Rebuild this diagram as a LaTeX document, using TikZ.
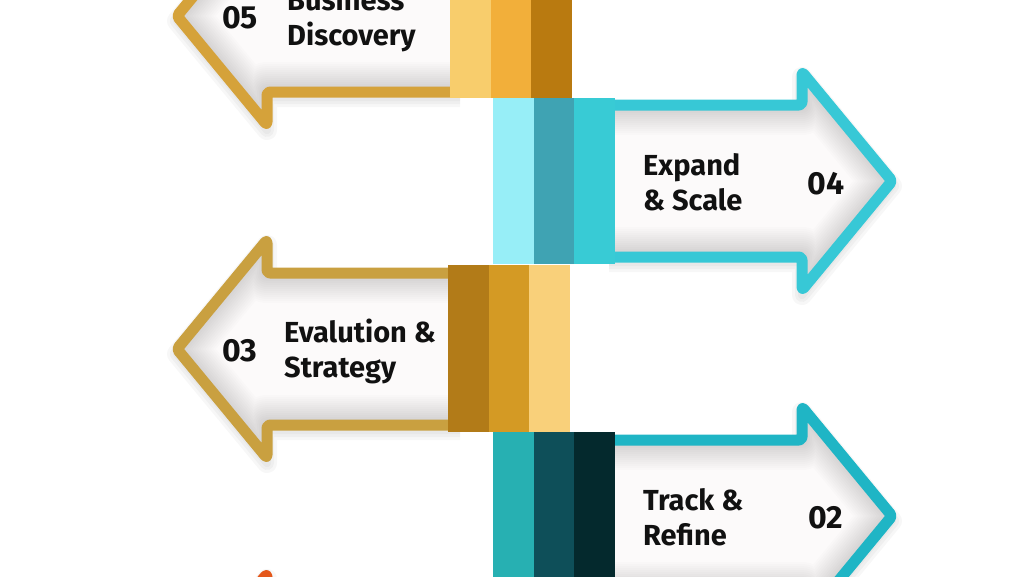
\documentclass[tikz,border=0pt]{standalone}
\usepackage{fontspec}
\setmainfont{Fira Sans}
\usepackage{tikz}

\definecolor{ink}{HTML}{111111}
\definecolor{paper}{HTML}{FCFAFA}
% arrow borders
\definecolor{goldA}{HTML}{D5A23A}
\definecolor{goldB}{HTML}{C9A040}
\definecolor{cyanA}{HTML}{37C8D6}
\definecolor{cyanB}{HTML}{1FB5C5}
\definecolor{orangeA}{HTML}{E4581B}
% stripes
\definecolor{sA1}{HTML}{F8CD6C}\definecolor{sA2}{HTML}{F2AF3A}\definecolor{sA3}{HTML}{B97A10}
\definecolor{sB1}{HTML}{97EEF7}\definecolor{sB2}{HTML}{3FA3B3}\definecolor{sB3}{HTML}{38CBD5}
\definecolor{sC1}{HTML}{B27B18}\definecolor{sC2}{HTML}{D49A24}\definecolor{sC3}{HTML}{F9D07A}
\definecolor{sD1}{HTML}{27B0B2}\definecolor{sD2}{HTML}{0E4F59}\definecolor{sD3}{HTML}{04292D}

\tikzset{
  arrowbody/.style={insert path={(460,#1-76) -- (267,#1-76) -- (267,#1-109) -- (177,#1)
      -- (267,#1+109) -- (267,#1+76) -- (460,#1+76)}},
  arrowedge/.style={line width=11pt, line join=round, rounded corners=3pt},
  steptext/.style={font=\bfseries\fontsize{29}{35}\selectfont, align=left, anchor=west,
      inner sep=0pt, text=ink},
  stepnum/.style={font=\bfseries\fontsize{32}{36}\selectfont, inner sep=0pt, text=ink},
}

\begin{document}
\begin{tikzpicture}[x=1pt, y=-1pt]
    \useasboundingbox (0,0) rectangle (1024,576);
    \clip (0,0) rectangle (1024,576);

    % Arrow bodies (left ones as drawn, right ones mirrored)
    \foreach \cy/\flip/\col in {16/1/goldA, 181/-1/cyanA, 349/1/goldB, 516/-1/cyanB, 683/1/orangeA} {
        \begin{scope}[shift={({(1-\flip)*534.5},0)}, xscale=\flip]
            % soft shadow under the arrow
            \foreach \w in {20,14,8} {
                \draw[line width=\w pt, black, opacity=0.03, line join=round,
                      transform canvas={yshift=-5pt}, arrowbody=\cy];
            }
            \begin{scope}
                \clip[arrowbody=\cy] -- cycle;
                \fill[paper] (0,-200) rectangle (1100,900);
                \foreach \w in {60,56,...,8} {
                    \draw[line width=\w pt, black, opacity=0.012, line join=round, arrowbody=\cy];
                }
            \end{scope}
            \draw[arrowedge, draw=\col, arrowbody=\cy];
        \end{scope}
    }

    % Stripe blocks on the spine
    \foreach \x/\ya/\yb/\ca/\cb/\cc in {450/-10/98/sA1/sA2/sA3, 493/98/264/sB1/sB2/sB3,
                                        448/265/432/sC1/sC2/sC3, 493/432/600/sD1/sD2/sD3} {
        \fill[\ca] (\x,\ya) rectangle ({\x+40.7},\yb);
        \fill[\cb] ({\x+40.7},\ya) rectangle ({\x+81.4},\yb);
        \fill[\cc] ({\x+81.4},\ya) rectangle ({\x+122},\yb);
    }

    % Step labels
    \node[stepnum] (n05) at (240,18) {05};
    \node[steptext] (t05) at (287,19) {Business\\Discovery};
    \node[stepnum] (n04) at (826,184) {04};
    \node[steptext] (t04) at (643,182) {Expand\\\& Scale};
    \node[stepnum] (n03) at (240,351) {03};
    \node[steptext] (t03) at (284,351) {Evalution \&\\Strategy};
    \node[stepnum] (n02) at (826,518) {02};
    \node[steptext] (t02) at (643,517) {Track \&\\Refine};
\end{tikzpicture}
\end{document}
